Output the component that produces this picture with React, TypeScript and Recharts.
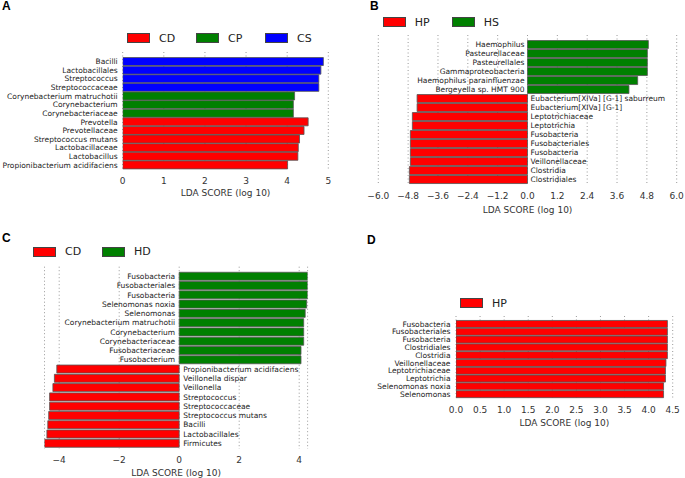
import React from 'react';
import { BarChart, Bar, XAxis, YAxis, CartesianGrid, Cell } from 'recharts';

const COLORS: Record<string, string> = {
  CD: '#ff0000', HP: '#ff0000',
  CP: '#008000', HS: '#008000', HD: '#008000',
  CS: '#0000ff',
};

// A: CD / CP / CS
const A_NAMES = [
  'Bacilli', 'Lactobacillales', 'Streptococcus', 'Streptococcaceae',
  'Corynebacterium matruchotii', 'Corynebacterium', 'Corynebacteriaceae',
  'Prevotella', 'Prevotellaceae', 'Streptococcus mutans', 'Lactobacillaceae',
  'Lactobacillus', 'Propionibacterium acidifaciens',
];
const A_VALUES = [4.88, 4.82, 4.77, 4.77, 4.18, 4.15, 4.15, 4.51, 4.41, 4.30, 4.27, 4.26, 4.01];
const A_GROUPS = ['CS', 'CS', 'CS', 'CS', 'CP', 'CP', 'CP', 'CD', 'CD', 'CD', 'CD', 'CD', 'CD'];
const A_TICKS = [0, 1, 2, 3, 4, 5];
const A_LEGEND = ['CD', 'CP', 'CS'];

// B: HP / HS
const B_NAMES = [
  'Haemophilus', 'Pasteurellaceae', 'Pasteurellales', 'Gammaproteobacteria',
  'Haemophilus parainfluenzae', 'Bergeyella sp. HMT 900',
  'Eubacterium[XIVa] [G-1] saburreum', 'Eubacterium[XIVa] [G-1]',
  'Leptotrichiaceae', 'Leptotrichia', 'Fusobacteria', 'Fusobacteriales',
  'Fusobacteria', 'Veillonellaceae', 'Clostridia', 'Clostridiales',
];
const B_VALUES = [4.86, 4.82, 4.82, 4.82, 4.43, 4.08, -4.44, -4.44, -4.63, -4.63, -4.71, -4.71, -4.71, -4.71, -4.75, -4.75];
const B_GROUPS = ['HS', 'HS', 'HS', 'HS', 'HS', 'HS', 'HP', 'HP', 'HP', 'HP', 'HP', 'HP', 'HP', 'HP', 'HP', 'HP'];
const B_TICKS = [-6.0, -4.8, -3.6, -2.4, -1.2, 0.0, 1.2, 2.4, 3.6, 4.8, 6.0];
const B_LEGEND = ['HP', 'HS'];

// C: CD / HD
const C_NAMES = [
  'Fusobacteria', 'Fusobacteriales', 'Fusobacteria', 'Selenomonas noxia',
  'Selenomonas', 'Corynebacterium matruchotii', 'Corynebacterium',
  'Corynebacteriaceae', 'Fusobacteriaceae', 'Fusobacterium',
  'Propionibacterium acidifaciens', 'Veillonella dispar', 'Veillonella',
  'Streptococcus', 'Streptococcaceae', 'Streptococcus mutans', 'Bacilli',
  'Lactobacillales', 'Firmicutes',
];
const C_VALUES = [4.28, 4.28, 4.28, 4.25, 4.20, 4.15, 4.15, 4.15, 4.06, 4.06, -4.08, -4.16, -4.21, -4.32, -4.32, -4.35, -4.38, -4.41, -4.49];
const C_GROUPS = ['HD', 'HD', 'HD', 'HD', 'HD', 'HD', 'HD', 'HD', 'HD', 'HD', 'CD', 'CD', 'CD', 'CD', 'CD', 'CD', 'CD', 'CD', 'CD'];
const C_TICKS = [-4, -2, 0, 2, 4];
const C_LEGEND = ['CD', 'HD'];

// D: HP
const D_NAMES = [
  'Fusobacteria', 'Fusobacteriales', 'Fusobacteria', 'Clostridiales', 'Clostridia',
  'Veillonellaceae', 'Leptotrichiaceae', 'Leptotrichia', 'Selenomonas noxia', 'Selenomonas',
];
const D_VALUES = [4.39, 4.39, 4.39, 4.39, 4.39, 4.36, 4.35, 4.35, 4.31, 4.31];
const D_GROUPS = ['HP', 'HP', 'HP', 'HP', 'HP', 'HP', 'HP', 'HP', 'HP', 'HP'];
const D_TICKS = [0.0, 0.5, 1.0, 1.5, 2.0, 2.5, 3.0, 3.5, 4.0, 4.5];
const D_LEGEND = ['HP'];

const FONT = '"DejaVu Sans", sans-serif';

type Row = { key: string; name: string; value: number; group: string };

const toRows = (names: string[], values: number[], groups: string[]): Row[] =>
  names.map((name, i) => ({ key: String(i), name, value: values[i], group: groups[i] }));

const minus = (s: string) => s.replace('-', '\u2212');

const makeLabel = (rows: Row[], gap: number) => (props: any) => {
  const vb = props.viewBox && props.viewBox.width !== undefined ? props.viewBox : props;
  const { x, y, width, height } = vb;
  let row = props.index !== undefined ? rows[props.index] : undefined;
  if (!row) row = rows.find(r => r.value === props.value);
  if (!row || x === undefined) return null;
  const neg = row.value < 0;
  const zero = neg ? Math.max(x, x + width) : Math.min(x, x + width);
  const cy = Math.min(y, y + height) + Math.abs(height) / 2;
  return (
    <text
      x={neg ? zero + gap : zero - gap}
      y={cy}
      dy="0.36em"
      textAnchor={neg ? 'start' : 'end'}
      fontSize={7.5}
      fontFamily={FONT}
      fill="#222"
    >
      {row.name}
    </text>
  );
};

interface PanelProps {
  rows: Row[];
  ticks: number[];
  domain: any[];
  fmt: (v: number) => string;
  left: number;
  top: number;
  width: number;
  height: number;
  margin: { top: number; right: number; bottom: number; left: number };
  padTop: number;
  gap: number;
  axisHeight: number;
  labelOffset: number;
}

const Panel: React.FC<PanelProps> = ({ rows, ticks, domain, fmt, left, top, width, height, margin, padTop, gap, axisHeight, labelOffset }) => (
  <div style={{ position: 'absolute', left, top, width, height }}>
    <BarChart width={width} height={height} data={rows} layout="vertical" margin={margin} barCategoryGap="6%">
      <CartesianGrid horizontal={false} vertical stroke="#999" strokeDasharray="1 2.5" />
      <XAxis
        type="number"
        domain={domain}
        ticks={ticks}
        interval={0}
        allowDataOverflow
        axisLine={false}
        tickLine={false}
        height={axisHeight}
        tickFormatter={fmt}
        tick={{ fontSize: 9, fontFamily: FONT, fill: '#333' }}
        label={{ value: 'LDA SCORE (log 10)', position: 'insideBottom', offset: labelOffset, fontSize: 9, fontFamily: FONT, fill: '#333' }}
      />
      <YAxis type="category" dataKey="key" hide padding={{ top: padTop, bottom: 1 }} />
      <Bar dataKey="value" isAnimationActive={false} stroke="#555" strokeWidth={0.8} label={makeLabel(rows, gap)}>
        {rows.map(r => (
          <Cell key={r.key} fill={COLORS[r.group]} />
        ))}
      </Bar>
    </BarChart>
  </div>
);

const LegendBox: React.FC<{ items: string[]; left: number; cy: number }> = ({ items, left, cy }) => (
  <div style={{ position: 'absolute', left, top: cy - 7, height: 14, display: 'flex', alignItems: 'center', fontFamily: FONT, fontSize: 11, color: '#222' }}>
    {items.map(it => (
      <div key={it} style={{ width: 69, display: 'flex', alignItems: 'center' }}>
        <div style={{ width: 21, height: 8, background: COLORS[it], border: '1px solid #444', marginRight: 9 }} />
        <span>{it}</span>
      </div>
    ))}
  </div>
);

const Letter: React.FC<{ text: string; left: number; top: number }> = ({ text, left, top }) => (
  <div style={{ position: 'absolute', left, top, fontFamily: '"Liberation Sans", Arial, sans-serif', fontWeight: 'bold', fontSize: 12, lineHeight: '10px' }}>
    {text}
  </div>
);

const intFmt = (v: number) => minus(String(v));
const oneDec = (v: number) => minus(v.toFixed(1));

export default function App() {
  return (
    <div style={{ position: 'absolute', left: 0, top: 0, width: 685, height: 478, background: '#fff', overflow: 'hidden' }}>
      <Letter text="A" left={2} top={1} />
      <Letter text="B" left={370} top={1} />
      <Letter text="C" left={2} top={233} />
      <Letter text="D" left={367} top={235} />

      <LegendBox items={A_LEGEND} left={127} cy={38} />
      <LegendBox items={B_LEGEND} left={382.7} cy={22} />
      <LegendBox items={C_LEGEND} left={33} cy={251.7} />
      <LegendBox items={D_LEGEND} left={460} cy={303.3} />

      <Panel
        rows={toRows(A_NAMES, A_VALUES, A_GROUPS)}
        ticks={A_TICKS} domain={[0, 5]} fmt={intFmt}
        left={0} top={0} width={345} height={205}
        margin={{ top: 52, right: 16.7, bottom: 5, left: 122.7 }}
        padTop={5} gap={5} axisHeight={30} labelOffset={4}
      />
      <Panel
        rows={toRows(B_NAMES, B_VALUES, B_GROUPS)}
        ticks={B_TICKS} domain={[-6, 6]} fmt={oneDec}
        left={345} top={0} width={340} height={220}
        margin={{ top: 35, right: 8.3, bottom: 5, left: 33.3 }}
        padTop={5} gap={3} axisHeight={30} labelOffset={2}
      />
      <Panel
        rows={toRows(C_NAMES, C_VALUES, C_GROUPS)}
        ticks={C_TICKS} domain={['dataMin', 'dataMax']} fmt={intFmt}
        left={0} top={230} width={345} height={248}
        margin={{ top: 36.7, right: 37.4, bottom: 0, left: 44.5 }}
        padTop={5} gap={4} axisHeight={29} labelOffset={2.5}
      />
      <Panel
        rows={toRows(D_NAMES, D_VALUES, D_GROUPS)}
        ticks={D_TICKS} domain={[0, 4.5]} fmt={oneDec}
        left={345} top={230} width={340} height={200}
        margin={{ top: 86, right: 12.3, bottom: 2, left: 111 }}
        padTop={4} gap={5.5} axisHeight={29} labelOffset={2.5}
      />
    </div>
  );
}
